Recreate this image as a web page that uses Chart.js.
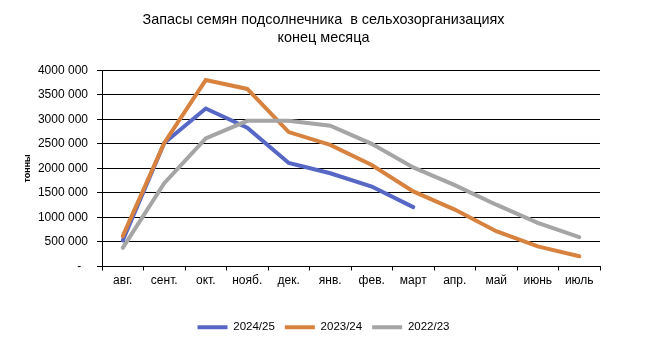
<!DOCTYPE html>
<html>
<head>
<meta charset="utf-8">
<script src="https://cdn.jsdelivr.net/npm/chart.js@4/dist/chart.umd.min.js"></script>
<style>
  html, body { margin: 0; padding: 0; background: #fff; }
  #wrap { width: 647px; height: 347px; }
</style>
</head>
<body>
<div id="wrap"><canvas id="c" width="647" height="347"></canvas></div>
<script>
// Months of the marketing year (August → July)
const months = ['авг.', 'сент.', 'окт.', 'нояб.', 'дек.', 'янв.', 'фев.', 'март', 'апр.', 'май', 'июнь', 'июль'];

// Sunflower seed stocks at month end, tonnes
const stocks2024 = [530000, 2520000, 3220000, 2830000, 2110000, 1900000, 1630000, 1210000];
const stocks2023 = [620000, 2520000, 3800000, 3620000, 2740000, 2480000, 2070000, 1530000, 1160000, 720000, 410000, 210000];
const stocks2022 = [380000, 1700000, 2610000, 2970000, 2970000, 2870000, 2500000, 2020000, 1660000, 1260000, 890000, 600000];

const seriesNames = ['2024/25', '2023/24', '2022/23'];
const seriesColors = ['#5767C6', '#D8823F', '#A5A5A5'];

// Y axis tick labels, 0 … 4 000 000 in steps of 500 000
const yTickValues = [0, 500000, 1000000, 1500000, 2000000, 2500000, 3000000, 3500000, 4000000];
const yTickLabels = ['-  ', '500 000', '1000 000', '1500 000', '2000 000', '2500 000', '3000 000', '3500 000', '4000 000'];

const FONT = '"Liberation Sans", Arial, sans-serif';

const allSeries = [stocks2024, stocks2023, stocks2022];
const datasets = allSeries.map((data, i) => ({
  label: seriesNames[i],
  data: data,
  borderColor: seriesColors[i],
  backgroundColor: seriesColors[i],
  borderWidth: 4,
  pointRadius: 0,
  pointHoverRadius: 0,
  tension: 0,
  fill: false,
  borderCapStyle: 'round',
  order: allSeries.length - i   // later seasons drawn on top
}));

new Chart(document.getElementById('c'), {
  type: 'line',
  data: { labels: months, datasets: datasets },
  options: {
    responsive: false,
    animation: false,
    events: [],
    layout: { padding: { left: 0, right: 0, top: 0, bottom: 4 } },
    plugins: {
      title: {
        display: true,
        text: ['Запасы семян подсолнечника  в сельхозорганизациях', 'конец месяца'],
        color: '#000',
        font: { family: FONT, size: 14.4, weight: 'normal', lineHeight: 1.26 },
        padding: { top: 11, bottom: 23 }
      },
      legend: {
        position: 'bottom',
        reverse: true,
        labels: {
          usePointStyle: true,
          pointStyle: 'line',
          pointStyleWidth: 30,
          color: '#000',
          font: { family: FONT, size: 11.5 },
          padding: 10,
          boxHeight: 12
        }
      },
      tooltip: { enabled: false }
    },
    scales: {
      x: {
        offset: true,
        grid: {
          offset: true,
          drawOnChartArea: false,
          drawTicks: true,
          tickLength: 4,
          color: '#000',
          lineWidth: 1
        },
        border: { color: '#000', width: 1 },
        ticks: {
          color: '#000',
          font: { family: FONT, size: 12 },
          padding: 3,
          maxRotation: 0,
          autoSkip: false
        },
        afterFit: (s) => { s.height = 45; }
      },
      y: {
        min: 0,
        max: 4000000,
        afterBuildTicks: (s) => { s.ticks = yTickValues.map(v => ({ value: v })); },
        grid: {
          color: '#000',
          lineWidth: 1,
          drawTicks: true,
          tickLength: 5
        },
        border: { color: '#000', width: 1 },
        ticks: {
          color: '#000',
          font: { family: FONT, size: 12 },
          padding: 9,
          callback: (v) => yTickLabels[yTickValues.indexOf(v)]
        },
        title: {
          display: true,
          text: 'тонны',
          color: '#000',
          font: { family: FONT, size: 9, weight: 'bold' },
          padding: { top: 22, bottom: 0 }
        },
        afterFit: (s) => { s.width = 102; }
      },
      // empty right-hand margin so the title and legend stay centred on the page
      yRight: {
        position: 'right',
        display: true,
        min: 0,
        max: 1,
        grid: { display: false, drawTicks: false },
        border: { display: false },
        ticks: { display: false },
        afterFit: (s) => { s.width = 47; }
      }
    }
  }
});
</script>
</body>
</html>
